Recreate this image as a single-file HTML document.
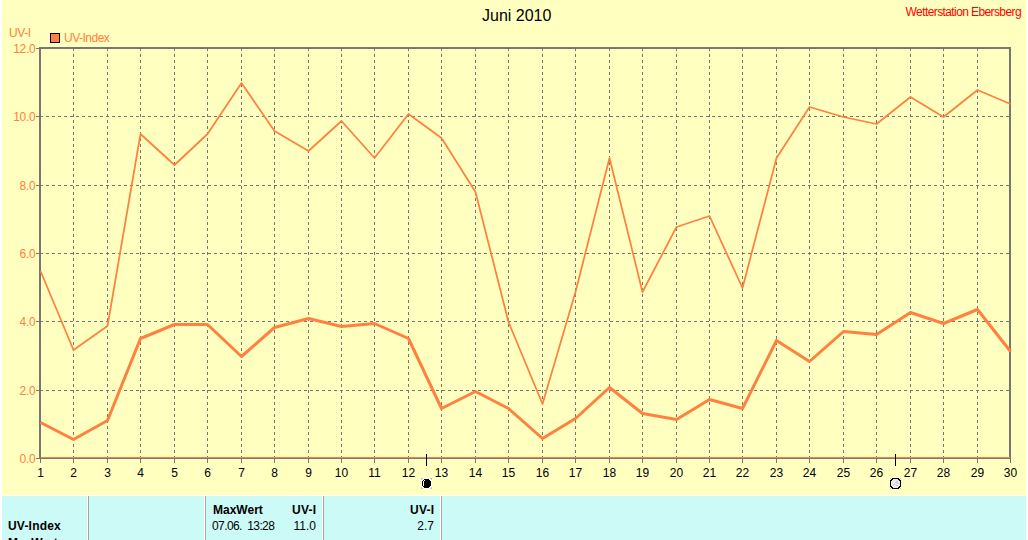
<!DOCTYPE html><html><head><meta charset="utf-8"><style>
html,body{margin:0;padding:0;background:#fff;width:1028px;height:540px;overflow:hidden}
svg{position:absolute;left:0;top:0;display:block}
text{font-family:"Liberation Sans",sans-serif}
</style></head><body>
<svg width="1028" height="540" viewBox="0 0 1028 540">
<rect x="2" y="0" width="1024" height="495" fill="#FFFFC0"/>
<rect x="2" y="496" width="1024" height="44" fill="#CCFAF6"/>
<path d="M40 116.5H1009 M40 185.5H1009 M40 253.5H1009 M40 321.5H1009 M40 390.5H1009 M73.5 48V457 M107.5 48V457 M140.5 48V457 M174.5 48V457 M207.5 48V457 M241.5 48V457 M274.5 48V457 M308.5 48V457 M341.5 48V457 M374.5 48V457 M408.5 48V457 M441.5 48V457 M475.5 48V457 M508.5 48V457 M542.5 48V457 M575.5 48V457 M609.5 48V457 M642.5 48V457 M676.5 48V457 M709.5 48V457 M742.5 48V457 M776.5 48V457 M809.5 48V457 M843.5 48V457 M876.5 48V457 M910.5 48V457 M943.5 48V457 M977.5 48V457" stroke="#777675" stroke-width="1" stroke-dasharray="3 3" fill="none" shape-rendering="crispEdges"/>
<g fill="#777675" shape-rendering="crispEdges">
<rect x="39" y="47" width="972" height="2"/>
<rect x="39" y="48" width="2" height="411"/>
<rect x="1009" y="47" width="2" height="412"/>
<rect x="39" y="457" width="972" height="2"/>
<rect x="36" y="48" width="3" height="1"/>
<rect x="36" y="116" width="3" height="1"/>
<rect x="36" y="185" width="3" height="1"/>
<rect x="36" y="253" width="3" height="1"/>
<rect x="36" y="321" width="3" height="1"/>
<rect x="36" y="390" width="3" height="1"/>
<rect x="36" y="458" width="3" height="1"/>
<rect x="40" y="459" width="1" height="4"/>
<rect x="73" y="459" width="1" height="4"/>
<rect x="107" y="459" width="1" height="4"/>
<rect x="140" y="459" width="1" height="4"/>
<rect x="174" y="459" width="1" height="4"/>
<rect x="207" y="459" width="1" height="4"/>
<rect x="241" y="459" width="1" height="4"/>
<rect x="274" y="459" width="1" height="4"/>
<rect x="308" y="459" width="1" height="4"/>
<rect x="341" y="459" width="1" height="4"/>
<rect x="374" y="459" width="1" height="4"/>
<rect x="408" y="459" width="1" height="4"/>
<rect x="441" y="459" width="1" height="4"/>
<rect x="475" y="459" width="1" height="4"/>
<rect x="508" y="459" width="1" height="4"/>
<rect x="542" y="459" width="1" height="4"/>
<rect x="575" y="459" width="1" height="4"/>
<rect x="609" y="459" width="1" height="4"/>
<rect x="642" y="459" width="1" height="4"/>
<rect x="676" y="459" width="1" height="4"/>
<rect x="709" y="459" width="1" height="4"/>
<rect x="742" y="459" width="1" height="4"/>
<rect x="776" y="459" width="1" height="4"/>
<rect x="809" y="459" width="1" height="4"/>
<rect x="843" y="459" width="1" height="4"/>
<rect x="876" y="459" width="1" height="4"/>
<rect x="910" y="459" width="1" height="4"/>
<rect x="943" y="459" width="1" height="4"/>
<rect x="977" y="459" width="1" height="4"/>
<rect x="1010" y="459" width="1" height="4"/>
</g>
<rect x="41" y="457" width="969" height="1" fill="#FF8040" shape-rendering="crispEdges"/>
<polyline points="40.5,271 73.5,350 107.5,326 140.5,134 174.5,165 207.5,134 241.5,83 274.5,131 308.5,151 341.5,121 374.5,158 408.5,114 441.5,138 475.5,192 508.5,322 542.5,404 575.5,292 609.5,158 642.5,292 676.5,227 709.5,216 742.5,288 776.5,158 809.5,107 843.5,117 876.5,124 910.5,97 943.5,117 977.5,90 1010.5,104" fill="none" stroke="#FF8040" stroke-width="1.75" stroke-linejoin="round"/>
<polyline points="40.5,422.5 73.5,439.5 107.5,420.5 140.5,338.5 174.5,324.5 207.5,324.5 241.5,356.5 274.5,327.5 308.5,318.5 341.5,326.5 374.5,323.5 408.5,338.5 441.5,408.5 475.5,391.5 508.5,408.5 542.5,438.5 575.5,418.5 609.5,387.5 642.5,413.5 676.5,419.5 709.5,399.5 742.5,408.5 776.5,340.5 809.5,361.5 843.5,331.5 876.5,334.5 910.5,312.5 943.5,323.5 977.5,309.5 1010.5,351.5" fill="none" stroke="#FF8040" stroke-width="3" stroke-linejoin="round"/>
<text x="35.3" y="52.5" font-size="12" fill="#FF8040" text-anchor="end" letter-spacing="-0.3">12.0</text>
<text x="35.3" y="120.5" font-size="12" fill="#FF8040" text-anchor="end" letter-spacing="-0.3">10.0</text>
<text x="35.3" y="189.5" font-size="12" fill="#FF8040" text-anchor="end" letter-spacing="-0.3">8.0</text>
<text x="35.3" y="257.5" font-size="12" fill="#FF8040" text-anchor="end" letter-spacing="-0.3">6.0</text>
<text x="35.3" y="325.5" font-size="12" fill="#FF8040" text-anchor="end" letter-spacing="-0.3">4.0</text>
<text x="35.3" y="394.5" font-size="12" fill="#FF8040" text-anchor="end" letter-spacing="-0.3">2.0</text>
<text x="35.3" y="462.5" font-size="12" fill="#FF8040" text-anchor="end" letter-spacing="-0.3">0.0</text>
<text x="40.5" y="477" font-size="12" fill="#000" text-anchor="middle">1</text>
<text x="73.5" y="477" font-size="12" fill="#000" text-anchor="middle">2</text>
<text x="107.5" y="477" font-size="12" fill="#000" text-anchor="middle">3</text>
<text x="140.5" y="477" font-size="12" fill="#000" text-anchor="middle">4</text>
<text x="174.5" y="477" font-size="12" fill="#000" text-anchor="middle">5</text>
<text x="207.5" y="477" font-size="12" fill="#000" text-anchor="middle">6</text>
<text x="241.5" y="477" font-size="12" fill="#000" text-anchor="middle">7</text>
<text x="274.5" y="477" font-size="12" fill="#000" text-anchor="middle">8</text>
<text x="308.5" y="477" font-size="12" fill="#000" text-anchor="middle">9</text>
<text x="341.5" y="477" font-size="12" fill="#000" text-anchor="middle">10</text>
<text x="374.5" y="477" font-size="12" fill="#000" text-anchor="middle">11</text>
<text x="408.5" y="477" font-size="12" fill="#000" text-anchor="middle">12</text>
<text x="441.5" y="477" font-size="12" fill="#000" text-anchor="middle">13</text>
<text x="475.5" y="477" font-size="12" fill="#000" text-anchor="middle">14</text>
<text x="508.5" y="477" font-size="12" fill="#000" text-anchor="middle">15</text>
<text x="542.5" y="477" font-size="12" fill="#000" text-anchor="middle">16</text>
<text x="575.5" y="477" font-size="12" fill="#000" text-anchor="middle">17</text>
<text x="609.5" y="477" font-size="12" fill="#000" text-anchor="middle">18</text>
<text x="642.5" y="477" font-size="12" fill="#000" text-anchor="middle">19</text>
<text x="676.5" y="477" font-size="12" fill="#000" text-anchor="middle">20</text>
<text x="709.5" y="477" font-size="12" fill="#000" text-anchor="middle">21</text>
<text x="742.5" y="477" font-size="12" fill="#000" text-anchor="middle">22</text>
<text x="776.5" y="477" font-size="12" fill="#000" text-anchor="middle">23</text>
<text x="809.5" y="477" font-size="12" fill="#000" text-anchor="middle">24</text>
<text x="843.5" y="477" font-size="12" fill="#000" text-anchor="middle">25</text>
<text x="876.5" y="477" font-size="12" fill="#000" text-anchor="middle">26</text>
<text x="910.5" y="477" font-size="12" fill="#000" text-anchor="middle">27</text>
<text x="943.5" y="477" font-size="12" fill="#000" text-anchor="middle">28</text>
<text x="977.5" y="477" font-size="12" fill="#000" text-anchor="middle">29</text>
<text x="1010.5" y="477" font-size="12" fill="#000" text-anchor="middle">30</text>
<text x="482" y="21" font-size="16" fill="#000">Juni 2010</text>
<text x="1021" y="16" font-size="12" fill="#FF0000" text-anchor="end" letter-spacing="-0.6">Wetterstation Ebersberg</text>
<text x="9" y="37" font-size="12" fill="#FF8040" letter-spacing="-0.4">UV-I</text>
<rect x="50.5" y="33.5" width="9" height="9" fill="#FF8040" stroke="#000" stroke-width="1" shape-rendering="crispEdges"/>
<text x="64" y="42" font-size="12" fill="#FF8040" letter-spacing="-0.5">UV-Index</text>
<rect x="426" y="454" width="1" height="12" fill="#000" shape-rendering="crispEdges"/>
<rect x="895" y="454" width="1" height="12" fill="#000" shape-rendering="crispEdges"/>
<path d="M423 478h7v1h-7z M422 479h9v1h-9z M421 480h11v1h-11z M421 481h11v1h-11z M421 482h11v1h-11z M421 483h11v1h-11z M421 484h11v1h-11z M421 485h11v1h-11z M421 486h11v1h-11z M422 487h9v1h-9z M423 488h7v1h-7z" fill="#FFFFFF" shape-rendering="crispEdges"/>
<path d="M421 478h2v1h-2z M421 479h1v1h-1z M421 487h1v1h-1z M421 488h2v1h-2z" fill="#C4C4CC" shape-rendering="crispEdges"/>
<path d="M430 478h2v1h-2z M431 479h1v1h-1z M431 487h1v1h-1z M430 488h2v1h-2z" fill="#C4C4CC" shape-rendering="crispEdges"/>
<path d="M424 479h5v1h-5z M423 480h7v1h-7z M422 481h9v1h-9z M422 482h9v1h-9z M422 483h9v1h-9z M422 484h9v1h-9z M422 485h9v1h-9z M423 486h7v1h-7z M424 487h5v1h-5z" fill="#000000" shape-rendering="crispEdges"/>
<path d="M423 481h1v1h-1z M423 482h1v1h-1z M423 483h1v1h-1z M423 484h1v1h-1z M423 485h1v1h-1z M424 480h1v1h-1z" fill="#FFFFFF" shape-rendering="crispEdges"/>
<path d="M892 478h7v1h-7z M891 479h9v1h-9z M890 480h11v1h-11z M890 481h11v1h-11z M890 482h11v1h-11z M890 483h11v1h-11z M890 484h11v1h-11z M890 485h11v1h-11z M890 486h11v1h-11z M891 487h9v1h-9z M892 488h7v1h-7z" fill="#000000" shape-rendering="crispEdges"/>
<path d="M893 479h5v1h-5z M892 480h7v1h-7z M891 481h9v1h-9z M891 482h9v1h-9z M891 483h9v1h-9z M891 484h9v1h-9z M891 485h9v1h-9z M892 486h7v1h-7z M893 487h5v1h-5z" fill="#EAEAEA" shape-rendering="crispEdges"/>
<path d="M896 481h2v1h-2z M895 482h2v1h-2z M897 483h2v1h-2z M893 484h2v1h-2z M896 485h2v1h-2z" fill="#C8C8C8" shape-rendering="crispEdges"/>
<path d="M890 478h1v1h-1z M890 488h1v1h-1z" fill="#B8B8D0" shape-rendering="crispEdges"/>
<path d="M900 478h1v1h-1z M900 488h1v1h-1z" fill="#B8B8D0" shape-rendering="crispEdges"/>
<rect x="87" y="496" width="1" height="44" fill="#FFFFFF" shape-rendering="crispEdges"/>
<rect x="88" y="496" width="1" height="44" fill="#ACA49A" shape-rendering="crispEdges"/>
<rect x="204" y="496" width="1" height="44" fill="#FFFFFF" shape-rendering="crispEdges"/>
<rect x="205" y="496" width="1" height="44" fill="#ACA49A" shape-rendering="crispEdges"/>
<rect x="322" y="496" width="1" height="44" fill="#FFFFFF" shape-rendering="crispEdges"/>
<rect x="323" y="496" width="1" height="44" fill="#ACA49A" shape-rendering="crispEdges"/>
<rect x="440" y="496" width="1" height="44" fill="#FFFFFF" shape-rendering="crispEdges"/>
<rect x="441" y="496" width="1" height="44" fill="#ACA49A" shape-rendering="crispEdges"/>
<text x="8" y="530" font-size="12" font-weight="bold" fill="#000" letter-spacing="0.2">UV-Index</text>
<text x="8" y="546.5" font-size="12" font-weight="bold" fill="#000">MaxWert</text>
<text x="213" y="514" font-size="12" font-weight="bold" fill="#000">MaxWert</text>
<text x="316.5" y="514" font-size="12" font-weight="bold" fill="#000" text-anchor="end" letter-spacing="0.3">UV-I</text>
<text x="212" y="530" font-size="12" fill="#000" letter-spacing="-0.6" style="white-space:pre">07.06.  13:28</text>
<text x="316" y="530" font-size="12" fill="#000" text-anchor="end">11.0</text>
<text x="434.5" y="514" font-size="12" font-weight="bold" fill="#000" text-anchor="end" letter-spacing="0.3">UV-I</text>
<text x="434" y="530" font-size="12" fill="#000" text-anchor="end">2.7</text>
</svg></body></html>
